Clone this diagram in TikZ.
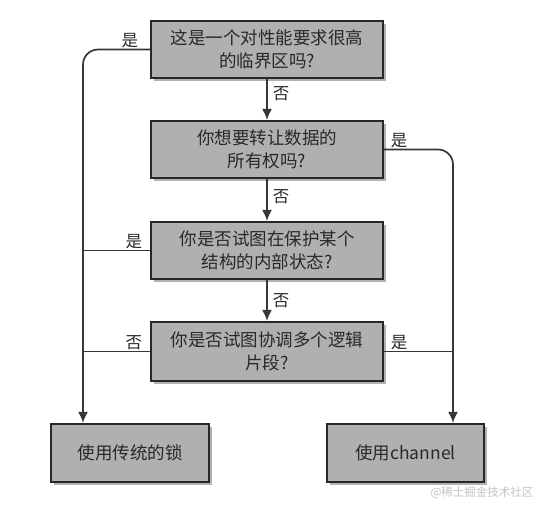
\documentclass[tikz,border=0pt]{standalone}
\usepackage{fontspec}
\setmainfont{Noto Sans CJK SC}
\usetikzlibrary{arrows.meta,positioning,shadows}
\definecolor{FlowInk}{RGB}{40,40,40}
\definecolor{FlowLine}{RGB}{55,55,55}
\definecolor{FlowFill}{RGB}{176,176,176}
\definecolor{FlowMark}{RGB}{196,196,196}
\tikzset{
  flow/box/.style={
    draw=FlowInk,
    line width=2.2pt,
    fill=FlowFill,
    align=center,
    text=FlowInk,
    minimum width=232pt,
    minimum height=57pt,
    inner sep=0pt,
    font=\fontsize{17.5}{23}\selectfont,
    drop shadow={shadow xshift=2.5pt, shadow yshift=-2.5pt, fill=black, opacity=0.3}
  },
  flow/arrow/.style={-{Latex[length=11pt,width=10pt]}, line width=1.7pt, draw=FlowLine},
  flow/line/.style={line width=1.7pt, draw=FlowLine},
  flow/label/.style={font=\fontsize{16.5}{18}\selectfont, text=FlowInk, inner sep=1pt}
}
\begin{document}
\begin{tikzpicture}[x=1pt,y=-1pt]
  \useasboundingbox[fill=white] (0,0) rectangle (540,504);
  \coordinate (lft) at (83,0);
  \coordinate (rgt) at (453,0);

  \node[flow/box] (crit)  at (267,49.5)  {这是一个对性能要求很高\\的临界区吗?};
  \node[flow/box] (owner) at (267,149.5) {你想要转让数据的\\所有权吗?};
  \node[flow/box] (guard) at (267,250.5) {你是否试图在保护某个\\结构的内部状态?};
  \node[flow/box,minimum height=59pt] (coord) at (267,351.5) {你是否试图协调多个逻辑\\片段?};
  \node[flow/box,minimum width=158pt,minimum height=58pt] (lock) at (130,453) {使用传统的锁};
  \node[flow/box,minimum width=157pt,minimum height=58pt] (chan) at (405.5,453) {使用channel};

  % down the middle
  \draw[flow/arrow] (crit) -- node[flow/label,right,pos=0.35,xshift=4pt] (no1) {否} (owner);
  \draw[flow/arrow] (owner) -- node[flow/label,right,pos=0.43,xshift=4pt] (no2) {否} (guard);
  \draw[flow/arrow] (guard) -- node[flow/label,right,pos=0.5,xshift=4pt] (no3) {否} (coord);

  % sides
  \draw[flow/arrow,rounded corners=15pt] (crit.west)
    -| node[flow/label,pos=0,anchor=south east,xshift=-10pt] (yes1) {是} (lft |- lock.north);
  \draw[flow/arrow,rounded corners=15pt] (owner.east)
    -| node[flow/label,pos=0,anchor=south west,xshift=5pt] (yes2) {是} (rgt |- chan.north);
  \draw[flow/line] (guard.west)
    -- node[flow/label,pos=0,anchor=south east,xshift=-6pt] (yes3) {是} (lft |- guard.west);
  \draw[flow/line] (coord.west)
    -- node[flow/label,pos=0,anchor=south east,xshift=-6pt] (no4) {否} (lft |- coord.west);
  \draw[flow/line] (coord.east)
    -- node[flow/label,pos=0,anchor=south west,xshift=5pt] (yes4) {是} (rgt |- coord.east);

  \node[font=\fontsize{11.5}{14}\selectfont,text=FlowMark,anchor=east] (wmark) at (537,493) {@稀土掘金技术社区};
\end{tikzpicture}
\end{document}
